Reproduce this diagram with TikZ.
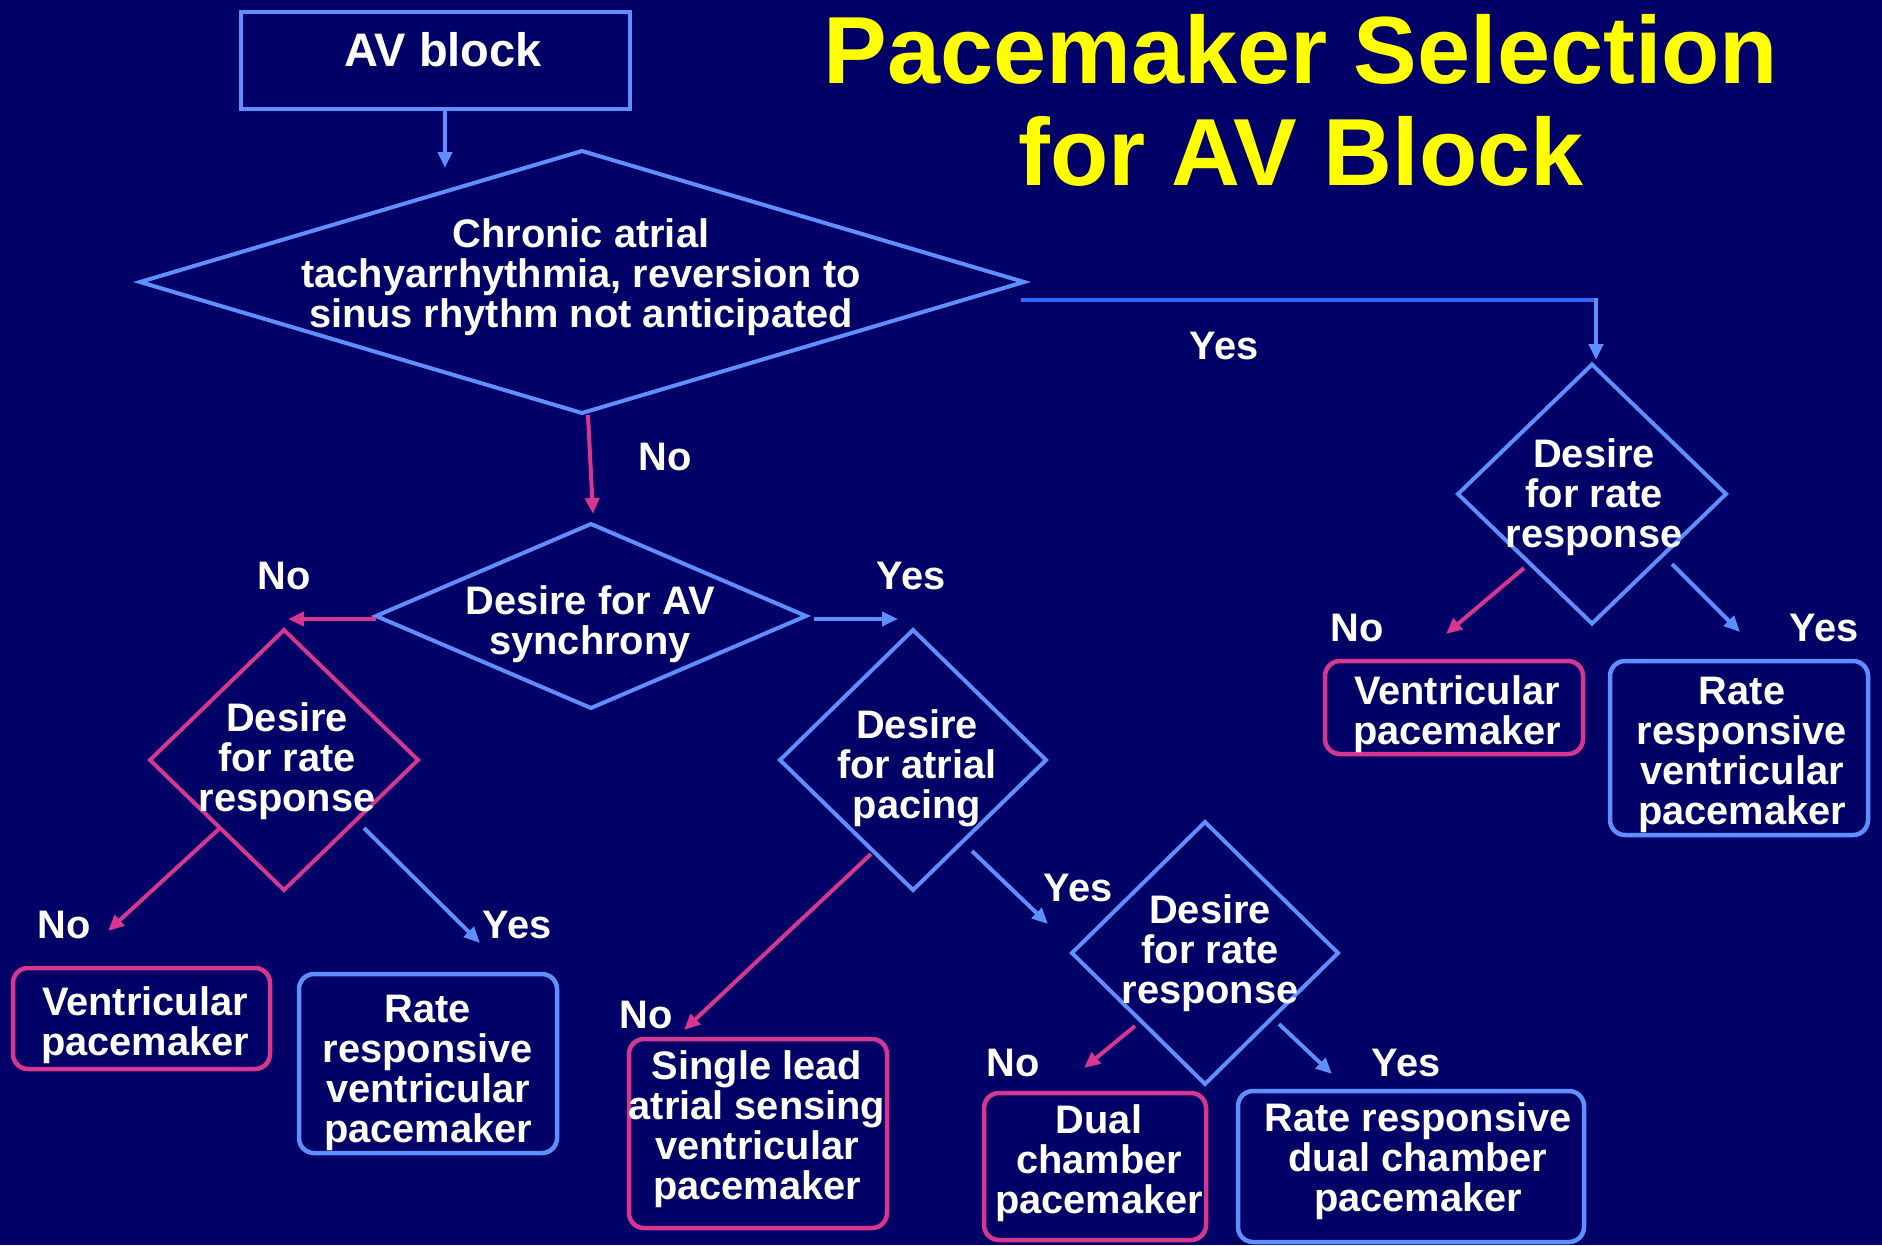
\documentclass[tikz,border=0pt]{standalone}
\usepackage{fontspec}
\setmainfont{Liberation Sans}
\usetikzlibrary{shapes.geometric,arrows.meta}

\definecolor{bg}{HTML}{000066}
\definecolor{lblue}{HTML}{5F8FFF}
\definecolor{dblue}{HTML}{3366FF}
\definecolor{pinkc}{HTML}{D6368E}
\definecolor{ttl}{HTML}{FFFF00}

\begin{document}
\begin{tikzpicture}[x=1pt,y=-1pt,
  every node/.style={inner sep=0pt, outer sep=0pt},
  dia/.style={diamond, draw=#1, line width=4pt},
  rbox/.style={rectangle, rounded corners=15pt, draw=#1, line width=4.5pt},
  sqbox/.style={rectangle, draw=lblue, line width=4.5pt},
  txt/.style={text=white, align=center, font=\bfseries\fontsize{39.8}{40}\selectfont},
  lbl/.style={text=white, font=\bfseries\fontsize{39.8}{40}\selectfont},
  ttlfont/.style={text=ttl, align=center, font=\bfseries\fontsize{95.4}{102}\selectfont},
  arrB/.style={draw=lblue, line width=4pt, -{Triangle[length=16pt,width=14pt]}},
  arrP/.style={draw=pinkc, line width=4pt, -{Triangle[length=16pt,width=14pt]}}
]
\useasboundingbox[fill=bg] (0,0) rectangle (1882,1245);

% title
\node[ttlfont] (title) at (1301,100) {Pacemaker Selection\\for AV Block};

% start box
\node[sqbox, minimum width=389pt, minimum height=97pt] (avb) at (435.5,60.5) {};
\node[txt, font=\bfseries\fontsize{47}{48}\selectfont] (avbt) at (443,50) {AV block};

% decision diamonds
\node[dia=lblue, minimum width=884pt, minimum height=262pt] (d1) at (582,282) {};
\node[txt] (d1t) at (581,277) {Chronic atrial\\tachyarrhythmia, reversion to\\sinus rhythm not anticipated};

\node[dia=lblue, minimum width=430pt, minimum height=184pt] (d2) at (591,616) {};
\node[txt] (d2t) at (590,624) {Desire for AV\\synchrony};

\node[dia=lblue, minimum width=268pt, minimum height=259pt] (d3) at (1592,494) {};
\node[txt] (d3t) at (1594,497) {Desire\\for rate\\response};

\node[dia=pinkc, minimum width=268pt, minimum height=260pt] (d4) at (284,760) {};
\node[txt] (d4t) at (287,761) {Desire\\for rate\\response};

\node[dia=lblue, minimum width=266pt, minimum height=260pt] (d5) at (913,760) {};
\node[txt] (d5t) at (917,768) {Desire\\for atrial\\pacing};

\node[dia=lblue, minimum width=266pt, minimum height=262pt] (d6) at (1205,953) {};
\node[txt] (d6t) at (1210,953) {Desire\\for rate\\response};

% outcome boxes
\node[rbox=pinkc, minimum width=257pt, minimum height=101pt] (b1) at (141.5,1018.5) {};
\node[txt] (b1t) at (145,1025) {Ventricular\\pacemaker};

\node[rbox=lblue, minimum width=258pt, minimum height=179pt] (b2) at (428,1063.5) {};
\node[txt] (b2t) at (428,1073) {Rate\\responsive\\ventricular\\pacemaker};

\node[rbox=pinkc, minimum width=258pt, minimum height=189pt] (b3) at (758,1133.5) {};
\node[txt] (b3t) at (757,1129) {Single lead\\atrial sensing\\ventricular\\pacemaker};

\node[rbox=pinkc, minimum width=222pt, minimum height=147pt] (b4) at (1095,1166.5) {};
\node[txt] (b4t) at (1099,1163) {Dual\\chamber\\pacemaker};

\node[rbox=lblue, minimum width=346pt, minimum height=151pt] (b5) at (1411,1166.5) {};
\node[txt] (b5t) at (1418,1161) {Rate responsive\\dual chamber\\pacemaker};

\node[rbox=pinkc, minimum width=258pt, minimum height=93pt] (b6) at (1454,707.5) {};
\node[txt] (b6t) at (1457,714) {Ventricular\\pacemaker};

\node[rbox=lblue, minimum width=258pt, minimum height=174pt] (b7) at (1739,748) {};
\node[txt] (b7t) at (1742,755) {Rate\\responsive\\ventricular\\pacemaker};

% branch labels
\node[lbl] (l1) at (1224,346) {Yes};
\node[lbl] (l2) at (665,457) {No};
\node[lbl] (l3) at (284,576) {No};
\node[lbl] (l4) at (911,576) {Yes};
\node[lbl] (l5) at (64,925) {No};
\node[lbl] (l6) at (517,925) {Yes};
\node[lbl] (l7) at (646,1015) {No};
\node[lbl] (l8) at (1078,888) {Yes};
\node[lbl] (l9) at (1013,1063) {No};
\node[lbl] (l10) at (1406,1063) {Yes};
\node[lbl] (l11) at (1357,628) {No};
\node[lbl] (l12) at (1824,628) {Yes};

% arrow end points
\coordinate (e0) at (445,168);
\coordinate (yc) at (1596,300);
\coordinate (e1) at (1596,360);
\coordinate (e2) at (593,514);
\coordinate (e3) at (288,619);
\coordinate (e4) at (898,619);
\coordinate (e5) at (108,931);
\coordinate (e6) at (480,943);
\coordinate (e7) at (684,1030);
\coordinate (e8) at (1048,924);
\coordinate (e9) at (1084,1068);
\coordinate (e10) at (1332,1074);
\coordinate (e11) at (1446,634);
\coordinate (e12) at (1740,632);

% connectors
\draw[arrB] ([shift={(9.5,0)}]avb.south) -- (e0);
\draw[dblue, line width=4pt] ([shift={(-3,18)}]d1.east) -- ([shift={(2,0)}]yc);
\draw[arrB] ([shift={(0,-2)}]yc) -- (e1);
\draw[arrP] ([shift={(6,2)}]d1.south) -- (e2);
\draw[arrP] ([shift={(0,3)}]d2.west) -- (e3);
\draw[arrB] ([shift={(8,3)}]d2.east) -- (e4);
\draw[arrP] ([shift={(-64,68)}]d4.center) -- (e5);
\draw[arrB] ([shift={(80,68)}]d4.center) -- (e6);
\draw[arrP] ([shift={(-42,94)}]d5.center) -- (e7);
\draw[arrB] ([shift={(59,91)}]d5.center) -- (e8);
\draw[arrP] ([shift={(-70,73)}]d6.center) -- (e9);
\draw[arrB] ([shift={(74,71)}]d6.center) -- (e10);
\draw[arrP] ([shift={(-68,74)}]d3.center) -- (e11);
\draw[arrB] ([shift={(80,70)}]d3.center) -- (e12);
\end{tikzpicture}
\end{document}
